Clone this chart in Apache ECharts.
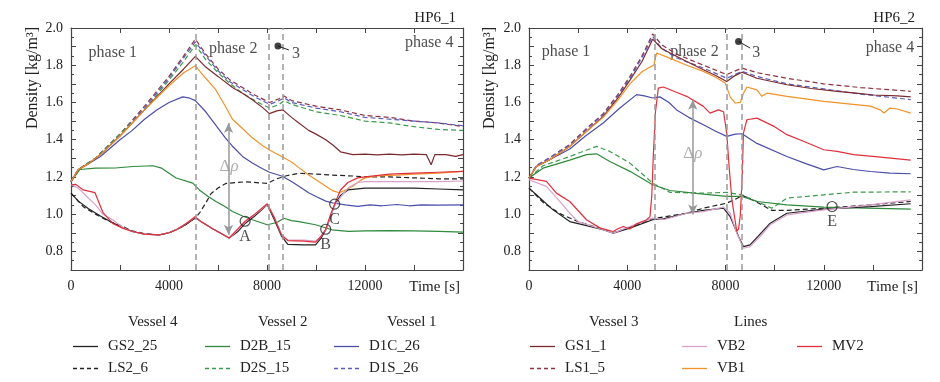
<!DOCTYPE html>
<html><head><meta charset="utf-8">
<script src="https://cdn.jsdelivr.net/npm/echarts@6/dist/echarts.min.js"></script>
<style>html,body{margin:0;padding:0;background:#fff}#c{width:940px;height:382px}</style>
</head><body><div id="c"></div>
<script>
// ---------- tick labels ----------
const xTickLabels = [0, 4000, 8000, 12000];
const yTickLabels = ['0.8', '1.0', '1.2', '1.4', '1.6', '1.8', '2.0'];
const phaseLines1 = [5076, 8054, 8636];
const phaseLines2 = [5100, 8054, 8667];

// ---------- HP6_1 (left) series : [time s, density kg/m3] ----------
const L_GS1_1 = [[0,1.175],[300,1.24],[700,1.27],[1200,1.32],[2000,1.42],[3000,1.56],[4000,1.70],[4600,1.78],[5076,1.848],[5500,1.79],[6000,1.74],[6590,1.68],[7000,1.65],[7400,1.615],[7800,1.575],[8100,1.54],[8400,1.555],[8650,1.56],[9000,1.52],[9300,1.49],[9700,1.45],[10000,1.43],[10400,1.40],[10700,1.37],[11000,1.335],[11500,1.32],[12000,1.322],[12500,1.318],[13000,1.322],[13500,1.318],[14000,1.322],[14500,1.32],[14700,1.265],[14850,1.32],[15300,1.32],[15700,1.31],[16000,1.32]];
const L_LS1_5 = [[0,1.175],[300,1.24],[1000,1.30],[2000,1.43],[3000,1.58],[4000,1.74],[4600,1.85],[5076,1.94],[5500,1.86],[6000,1.78],[6500,1.72],[7000,1.68],[7500,1.64],[8100,1.60],[8500,1.62],[8700,1.635],[9000,1.61],[10000,1.58],[11000,1.56],[12000,1.53],[13000,1.52],[14000,1.50],[15000,1.49],[16000,1.47]];
const L_D1S_26 = [[0,1.175],[300,1.24],[1000,1.30],[2000,1.43],[3000,1.57],[4000,1.73],[4600,1.84],[5076,1.925],[5500,1.85],[6000,1.77],[6500,1.71],[7000,1.67],[7500,1.63],[8100,1.59],[8500,1.61],[8700,1.625],[9000,1.60],[10000,1.57],[11000,1.55],[12000,1.52],[13000,1.51],[14000,1.50],[15000,1.49],[16000,1.475]];
const L_D2S_15 = [[0,1.175],[300,1.24],[1000,1.30],[2000,1.43],[3000,1.56],[4000,1.72],[4600,1.82],[5076,1.91],[5500,1.83],[6000,1.76],[6500,1.70],[7000,1.65],[7500,1.61],[8100,1.57],[8500,1.59],[8700,1.61],[9000,1.59],[10000,1.55],[11000,1.53],[12000,1.50],[13000,1.49],[14000,1.47],[15000,1.455],[16000,1.45]];
const L_D1C_26 = [[0,1.175],[300,1.24],[700,1.27],[1200,1.31],[2000,1.40],[2500,1.45],[3000,1.51],[3500,1.56],[4000,1.60],[4560,1.63],[4800,1.625],[5076,1.61],[5500,1.55],[5900,1.48],[6300,1.41],[6590,1.365],[7000,1.31],[7400,1.275],[7800,1.245],[8100,1.225],[8600,1.205],[9000,1.175],[9300,1.15],[9700,1.115],[10000,1.095],[10400,1.07],[10700,1.06],[11200,1.05],[11700,1.042],[12200,1.05],[12700,1.045],[13300,1.052],[13800,1.045],[14300,1.05],[15000,1.048],[16000,1.05]];
const L_VB1 = [[0,1.175],[300,1.24],[700,1.27],[1200,1.32],[2000,1.42],[3000,1.56],[4000,1.69],[4600,1.76],[5076,1.797],[5500,1.73],[5900,1.67],[6300,1.58],[6590,1.51],[7000,1.46],[7400,1.41],[7800,1.37],[8100,1.345],[8600,1.31],[9000,1.28],[9300,1.25],[9700,1.21],[10000,1.185],[10400,1.15],[10700,1.125],[10950,1.115],[11200,1.13],[11500,1.15],[11800,1.18],[12000,1.195],[12500,1.205],[13300,1.21],[14000,1.215],[15000,1.22],[16000,1.23]];
const L_GS2_25 = [[0,1.113],[300,1.07],[700,1.03],[1200,0.99],[1600,0.96],[2000,0.935],[2500,0.907],[3000,0.893],[3600,0.889],[4000,0.9],[4300,0.916],[4700,0.945],[5076,0.98],[5300,0.96],[5800,0.92],[6455,0.872],[6800,0.905],[7107,0.95],[7500,0.99],[8010,1.05],[8300,0.97],[8600,0.88],[8850,0.838],[9500,0.835],[9980,0.835],[10200,0.87],[10396,0.915],[10600,0.99],[10761,1.05],[11000,1.1],[11300,1.13],[12000,1.14],[13000,1.14],[14000,1.14],[15000,1.135],[16000,1.13]];
const L_LS2_6 = [[0,1.113],[500,1.04],[1000,1.0],[1500,0.965],[2000,0.94],[2500,0.91],[3000,0.895],[3600,0.889],[4000,0.9],[4500,0.93],[5076,0.98],[5240,1.005],[5500,1.06],[5713,1.11],[6000,1.14],[6322,1.165],[7134,1.174],[8012,1.165],[8400,1.19],[8756,1.205],[9300,1.22],[10000,1.215],[10650,1.21],[11500,1.205],[12000,1.2],[13000,1.2],[14000,1.195],[15000,1.19],[16000,1.19]];
const L_VB2 = [[0,1.158],[300,1.14],[600,1.10],[1000,1.05],[1300,1.0],[1700,0.97],[2100,0.93],[2500,0.907],[3000,0.893],[3600,0.889],[4000,0.9],[4300,0.916],[4700,0.95],[5076,0.985],[5300,0.96],[5800,0.92],[6455,0.872],[6800,0.915],[7107,0.958],[7500,0.998],[8010,1.052],[8300,0.985],[8600,0.89],[8850,0.86],[9500,0.86],[9980,0.855],[10200,0.88],[10396,0.915],[10600,0.99],[10761,1.045],[11000,1.09],[11300,1.14],[11700,1.17],[12000,1.175],[13000,1.175],[14000,1.175],[15000,1.175],[16000,1.178]];
const L_MV2 = [[0,1.158],[200,1.16],[500,1.13],[975,1.116],[1300,1.01],[1700,0.95],[2100,0.925],[2500,0.907],[3000,0.893],[3600,0.889],[4000,0.9],[4300,0.916],[4700,0.95],[5076,0.987],[5300,0.96],[5800,0.92],[6455,0.872],[6800,0.92],[7107,0.962],[7500,1.0],[8010,1.056],[8300,0.98],[8600,0.885],[8850,0.858],[9500,0.855],[9980,0.85],[10200,0.88],[10396,0.919],[10600,1.0],[10761,1.054],[11000,1.13],[11300,1.17],[11700,1.195],[12000,1.2],[13000,1.215],[14000,1.22],[15000,1.225],[16000,1.23]];
const L_D2B_15 = [[0,1.175],[365,1.24],[1000,1.247],[1800,1.248],[2530,1.256],[3345,1.26],[3700,1.247],[4290,1.194],[4970,1.167],[5240,1.13],[5600,1.095],[5915,1.068],[6300,1.04],[6590,1.014],[7000,0.99],[7400,0.97],[8010,0.943],[8400,0.955],[8690,0.978],[9000,0.965],[9300,0.96],[9980,0.943],[10650,0.916],[11330,0.907],[12000,0.91],[13000,0.912],[14000,0.91],[15000,0.908],[16000,0.903]];

// ---------- HP6_2 (right) series ----------
const R_GS1_1 = [[0,1.194],[300,1.256],[800,1.29],[1660,1.364],[2300,1.44],[3020,1.525],[3600,1.62],[4110,1.72],[4600,1.82],[5034,1.94],[5400,1.89],[5740,1.866],[6420,1.82],[7100,1.776],[7600,1.745],[8050,1.713],[8330,1.74],[8670,1.762],[9280,1.73],[10500,1.695],[11500,1.675],[12540,1.66],[13300,1.65],[14040,1.64],[15000,1.635],[15540,1.63]];
const R_LS1_5 = [[0,1.194],[300,1.26],[800,1.30],[1660,1.375],[2300,1.455],[3020,1.54],[3600,1.64],[4110,1.74],[4600,1.85],[5034,1.968],[5400,1.91],[6000,1.86],[7100,1.80],[8050,1.75],[8670,1.785],[9280,1.76],[10500,1.73],[12000,1.70],[13500,1.68],[15540,1.66]];
const R_D1S_26 = [[0,1.194],[300,1.26],[800,1.30],[1660,1.37],[2300,1.45],[3020,1.535],[3600,1.63],[4110,1.73],[4600,1.84],[5034,1.955],[5400,1.89],[6000,1.84],[7100,1.785],[8050,1.73],[8670,1.767],[9280,1.74],[10500,1.70],[12000,1.673],[13500,1.645],[15540,1.615]];
const R_VB1 = [[0,1.194],[300,1.256],[800,1.29],[1660,1.364],[2300,1.44],[3020,1.52],[3600,1.61],[4110,1.70],[4600,1.765],[4925,1.79],[5080,1.80],[5197,1.866],[5600,1.845],[6420,1.80],[7100,1.767],[7600,1.735],[7990,1.704],[8190,1.63],[8400,1.597],[8600,1.60],[8735,1.65],[8870,1.683],[9280,1.668],[9480,1.633],[9690,1.65],[10500,1.633],[12000,1.606],[13200,1.59],[13900,1.58],[14300,1.56],[14450,1.543],[14700,1.57],[15000,1.565],[15540,1.543]];
const R_D1C_26 = [[0,1.194],[300,1.256],[800,1.29],[1660,1.35],[2300,1.42],[3020,1.49],[3700,1.57],[4380,1.642],[4700,1.635],[5034,1.624],[5330,1.63],[5700,1.6],[6010,1.56],[6500,1.52],[7100,1.48],[7600,1.445],[8050,1.418],[8400,1.43],[8670,1.432],[9280,1.38],[10500,1.31],[11300,1.27],[12000,1.238],[12540,1.256],[13200,1.24],[13900,1.229],[14700,1.22],[15540,1.217]];
const R_MV2 = [[0,1.194],[710,1.176],[1115,1.113],[1660,1.068],[2340,0.97],[2900,0.925],[3430,0.907],[3600,0.92],[3840,0.934],[4100,0.92],[4380,0.948],[4790,0.97],[4925,0.987],[5000,1.1],[5060,1.31],[5150,1.55],[5265,1.677],[5470,1.683],[6000,1.655],[6420,1.633],[7100,1.579],[7370,1.543],[7710,1.56],[7920,1.55],[8050,1.435],[8150,1.25],[8260,1.077],[8460,0.907],[8530,0.92],[8600,0.99],[8680,1.2],[8730,1.435],[8870,1.507],[9280,1.516],[10000,1.47],[10500,1.427],[11200,1.39],[12000,1.346],[12540,1.337],[13220,1.32],[14000,1.31],[15540,1.29]];
const R_VB2 = [[0,1.185],[710,1.149],[1200,1.077],[1660,1.005],[2000,0.96],[3020,0.916],[3430,0.898],[4110,0.934],[5034,0.979],[5470,0.97],[6420,1.005],[7100,1.014],[7920,1.038],[8190,1.005],[8460,0.898],[8730,0.817],[9000,0.826],[9410,0.88],[9820,0.943],[10500,0.996],[12000,1.023],[13900,1.05],[15540,1.077]];
const R_GS2_25 = [[0,1.14],[300,1.104],[980,1.023],[1660,0.96],[2300,0.94],[3020,0.916],[3430,0.898],[4110,0.925],[5034,0.97],[5470,0.975],[6420,1.005],[7100,1.02],[7920,1.032],[8190,0.987],[8530,0.88],[8730,0.826],[9000,0.835],[9820,0.951],[10500,1.005],[12000,1.027],[13900,1.04],[15540,1.056]];
const R_LS2_6 = [[0,1.14],[600,1.06],[1300,1.0],[2000,0.96],[3000,0.92],[3430,0.9],[4110,0.93],[5034,0.975],[5470,0.985],[6420,1.005],[7100,1.032],[8050,1.059],[8400,1.08],[8700,1.1],[9200,1.07],[9890,1.02],[10500,1.02],[12000,1.032],[13900,1.05],[15540,1.068]];
const R_D2B_15 = [[0,1.194],[570,1.247],[1660,1.29],[2340,1.32],[2750,1.324],[3290,1.283],[4110,1.23],[5034,1.158],[5740,1.127],[7100,1.108],[8050,1.095],[8670,1.095],[9280,1.068],[10500,1.05],[12000,1.038],[15540,1.027]];
const R_D2S_15 = [[0,1.194],[570,1.26],[1660,1.31],[2750,1.364],[3290,1.337],[4110,1.274],[5034,1.167],[5740,1.117],[7100,1.113],[8050,1.117],[8670,1.104],[9280,1.068],[9890,1.032],[10500,1.086],[12000,1.104],[13220,1.118],[15540,1.12]];

// ---------- annotations (data coordinates) ----------
const phases1 = [['phase 1',1706,1.866],['phase 2',6619,1.887],['phase 4',14619,1.919]];
const phases2 = [['phase 1',1510,1.871],['phase 2',6735,1.871],['phase 4',14694,1.892]];
const points1 = [['A',7107,0.962],['B',10396,0.919],['C',10761,1.054]];
const points2 = [['E',12340,1.041]];
const dot1 = [[8447,1.903],[8893,1.882]]; const three1 = [9180,1.86];
const dot2 = [[8531,1.928],[9007,1.892]]; const three2 = [9250,1.866];
const arrow1 = [[6430,1.489],[6430,0.889]]; const rho1 = [6455,1.256];
const arrow2 = [[6667,1.615],[6667,0.998]]; const rho2 = [6667,1.328];

const FONT = 'Liberation Serif';
const AX = '#444';
const C = {black:'#222222', green:'#2f8a3c', greenD:'#3c9a4c', blue:'#4a4ea8', blueD:'#5a5cc0',
  brown:'#7a2a2e', brownD:'#8e3344', pink:'#d9a2cc', orange:'#f2922a', red:'#e0303c'};

const grids = [
  {left:71, top:28, width:392, height:242},
  {left:529, top:28, width:393, height:242}
];

function xAx(g, top){
  return {type:'value', gridIndex:g, position: top?'top':'bottom', min:0, max:16000, interval:2000,
    axisLine:{show:true, onZero:false, lineStyle:{color:AX, width:1.2}},
    axisTick:{show:true, inside:true, length:5, lineStyle:{color:AX}},
    splitLine:{show:false},
    axisLabel:{show:!top, margin:9, color:'#222', fontFamily:FONT, fontSize:14,
      formatter: v => xTickLabels.includes(v) ? String(v) : ''}};
}
function yAx(g, right){
  return {type:'value', gridIndex:g, position: right?'right':'left', min:0.7, max:2.0, interval:0.1,
    axisLine:{show:true, onZero:false, lineStyle:{color:AX, width:1.2}},
    axisTick:{show:true, inside:true, length:5, lineStyle:{color:AX}},
    minorTick:{show:true, splitNumber:2, length:3, lineStyle:{color:AX}},
    splitLine:{show:false},
    axisLabel:{show:!right, margin:8, color:'#222', fontFamily:FONT, fontSize:14,
      formatter: v => { const s = v.toFixed(1); return yTickLabels.includes(s) ? s : ''; }}};
}

function line(name, data, color, dashed, g){
  return {name, type:'line', data, xAxisIndex:g*2, yAxisIndex:g*2, symbol:'none', silent:true,
    animation:false, z:3,
    lineStyle:{color, width:1.2, type: dashed ? [5,3] : 'solid'}, itemStyle:{color}};
}

function annot(g, phases, points, dot, three, arrow, rho, vlines){
  const xi = g*2, yi = g*2;
  return [
    {type:'scatter', xAxisIndex:xi, yAxisIndex:yi, silent:true, animation:false, symbolSize:1,
     itemStyle:{color:'rgba(0,0,0,0)'},
     data: phases.map(p => ({value:[p[1],p[2]], name:p[0]})),
     label:{show:true, position:'inside', formatter:'{b}', color:'#222', fontFamily:FONT, fontSize:16},
     markLine:{silent:true, symbol:['none','none'], label:{show:false}, animation:false,
       lineStyle:{color:'#9a9a9a', width:1.5, type:[6,4]},
       data: vlines.map(v => ({xAxis:v}))}},
    {type:'scatter', xAxisIndex:xi, yAxisIndex:yi, silent:true, animation:false, symbol:'circle', symbolSize:10, z:5,
     itemStyle:{color:'rgba(0,0,0,0)', borderColor:'#222', borderWidth:1.2},
     data: points.map(p => ({value:[p[1],p[2]], name:p[0]})),
     label:{show:true, position:'bottom', distance:2, formatter:'{b}', color:'#222', fontFamily:FONT, fontSize:16}},
    {type:'line', xAxisIndex:xi, yAxisIndex:yi, silent:true, animation:false, symbol:'none',
     lineStyle:{color:'#222', width:1}, data: dot, z:5},
    {type:'scatter', xAxisIndex:xi, yAxisIndex:yi, silent:true, animation:false, symbol:'circle', symbolSize:7, z:5,
     itemStyle:{color:'#111'}, data:[dot[0]]},
    {type:'scatter', xAxisIndex:xi, yAxisIndex:yi, silent:true, animation:false, symbolSize:1, z:5,
     itemStyle:{color:'rgba(0,0,0,0)'},
     data:[{value:three, name:'3'},
           {value:rho, name:'Δρ', label:{color:'#999', fontSize:17, formatter:'Δ{i|ρ}',
             rich:{i:{fontStyle:'italic', fontFamily:FONT, fontSize:17, color:'#999'}}}}],
     label:{show:true, position:'inside', formatter:'{b}', color:'#222', fontFamily:FONT, fontSize:16},
     markLine:{silent:true, animation:false, symbol:['arrow','arrow'], symbolSize:[7,10], label:{show:false},
       lineStyle:{color:'#999', width:1.5, type:'solid'},
       data:[[{coord:arrow[0]},{coord:arrow[1]}]]}}
  ];
}

const series = [
  line('LS1_5', L_LS1_5, C.brownD, true, 0),
  line('D1S_26', L_D1S_26, C.blueD, true, 0),
  line('D2S_15', L_D2S_15, C.greenD, true, 0),
  line('LS2_6', L_LS2_6, C.black, true, 0),
  line('D2B_15', L_D2B_15, C.green, false, 0),
  line('D1C_26', L_D1C_26, C.blue, false, 0),
  line('GS1_1', L_GS1_1, C.brown, false, 0),
  line('VB1', L_VB1, C.orange, false, 0),
  line('GS2_25', L_GS2_25, C.black, false, 0),
  line('VB2', L_VB2, C.pink, false, 0),
  line('MV2', L_MV2, C.red, false, 0),

  line('LS1_5', R_LS1_5, C.brownD, true, 1),
  line('D1S_26', R_D1S_26, C.blueD, true, 1),
  line('D2S_15', R_D2S_15, C.greenD, true, 1),
  line('LS2_6', R_LS2_6, C.black, true, 1),
  line('D2B_15', R_D2B_15, C.green, false, 1),
  line('D1C_26', R_D1C_26, C.blue, false, 1),
  line('GS1_1', R_GS1_1, C.brown, false, 1),
  line('VB1', R_VB1, C.orange, false, 1),
  line('GS2_25', R_GS2_25, C.black, false, 1),
  line('VB2', R_VB2, C.pink, false, 1),
  line('MV2', R_MV2, C.red, false, 1),
  ...annot(0, phases1, points1, dot1, three1, arrow1, rho1, phaseLines1),
  ...annot(1, phases2, points2, dot2, three2, arrow2, rho2, phaseLines2)
];

const SOLID_ICON = 'path://M0,0h25v1.3h-25z';
const DASH_ICON = 'path://M0,0h4v1.3h-4zM7,0h4v1.3h-4zM14,0h4v1.3h-4zM21,0h4v1.3h-4z';
const dashedNames = ['LS2_6','D2S_15','D1S_26','LS1_5'];
const legendGroups = [
  {left:73, names:['GS2_25','LS2_6']},
  {left:205, names:['D2B_15','D2S_15']},
  {left:334, names:['D1C_26','D1S_26']},
  {left:530, names:['GS1_1','LS1_5']},
  {left:682, names:['VB2','VB1']},
  {left:797, names:['MV2']}
];
const headers = [['Vessel 4',128],['Vessel 2',258],['Vessel 1',387],['Vessel 3',589],['Lines',734]];

const option = {
  backgroundColor:'#fff',
  animation:false,
  grid: grids,
  xAxis: [xAx(0,false), xAx(0,true), xAx(1,false), xAx(1,true)],
  yAxis: [yAx(0,false), yAx(0,true), yAx(1,false), yAx(1,true)],
  legend: legendGroups.map(g => ({
    data:g.names.map(n => ({name:n, icon: dashedNames.includes(n) ? DASH_ICON : SOLID_ICON})),
    left:g.left, top:339, orient:'vertical', padding:0, itemGap:7, itemWidth:25, itemHeight:12,
    symbolKeepAspect:true, selectedMode:false,
    textStyle:{fontFamily:FONT, fontSize:15, color:'#222', padding:[0,0,0,5]}
  })),
  title: [
    {text:'HP6_1', right:940-461, top:6, textStyle:{fontFamily:FONT, fontSize:15, fontWeight:'normal', color:'#222'}},
    {text:'HP6_2', right:940-920, top:6, textStyle:{fontFamily:FONT, fontSize:15, fontWeight:'normal', color:'#222'}}
  ],
  graphic: [
    ...headers.map(h => ({type:'text', left:h[1], top:315, style:{text:h[0], x:0, fill:'#222', font:'15px "Liberation Serif"', textAlign:'center'}})),
    {type:'text', x:33, y:78, rotation:Math.PI/2, style:{text:'Density [kg/m³]', fill:'#222', font:'16px "Liberation Serif"', textAlign:'center', textVerticalAlign:'middle'}},
    {type:'text', x:490, y:78, rotation:Math.PI/2, style:{text:'Density [kg/m³]', fill:'#222', font:'16px "Liberation Serif"', textAlign:'center', textVerticalAlign:'middle'}},
    {type:'text', right:940-460, top:280, style:{text:'Time [s]', fill:'#222', font:'15px "Liberation Serif"'}},
    {type:'text', right:940-918, top:280, style:{text:'Time [s]', fill:'#222', font:'15px "Liberation Serif"'}}
  ],
  series
};
const chart = echarts.init(document.getElementById('c'), null, {renderer:'canvas'});
chart.setOption(option);
</script></body></html>
